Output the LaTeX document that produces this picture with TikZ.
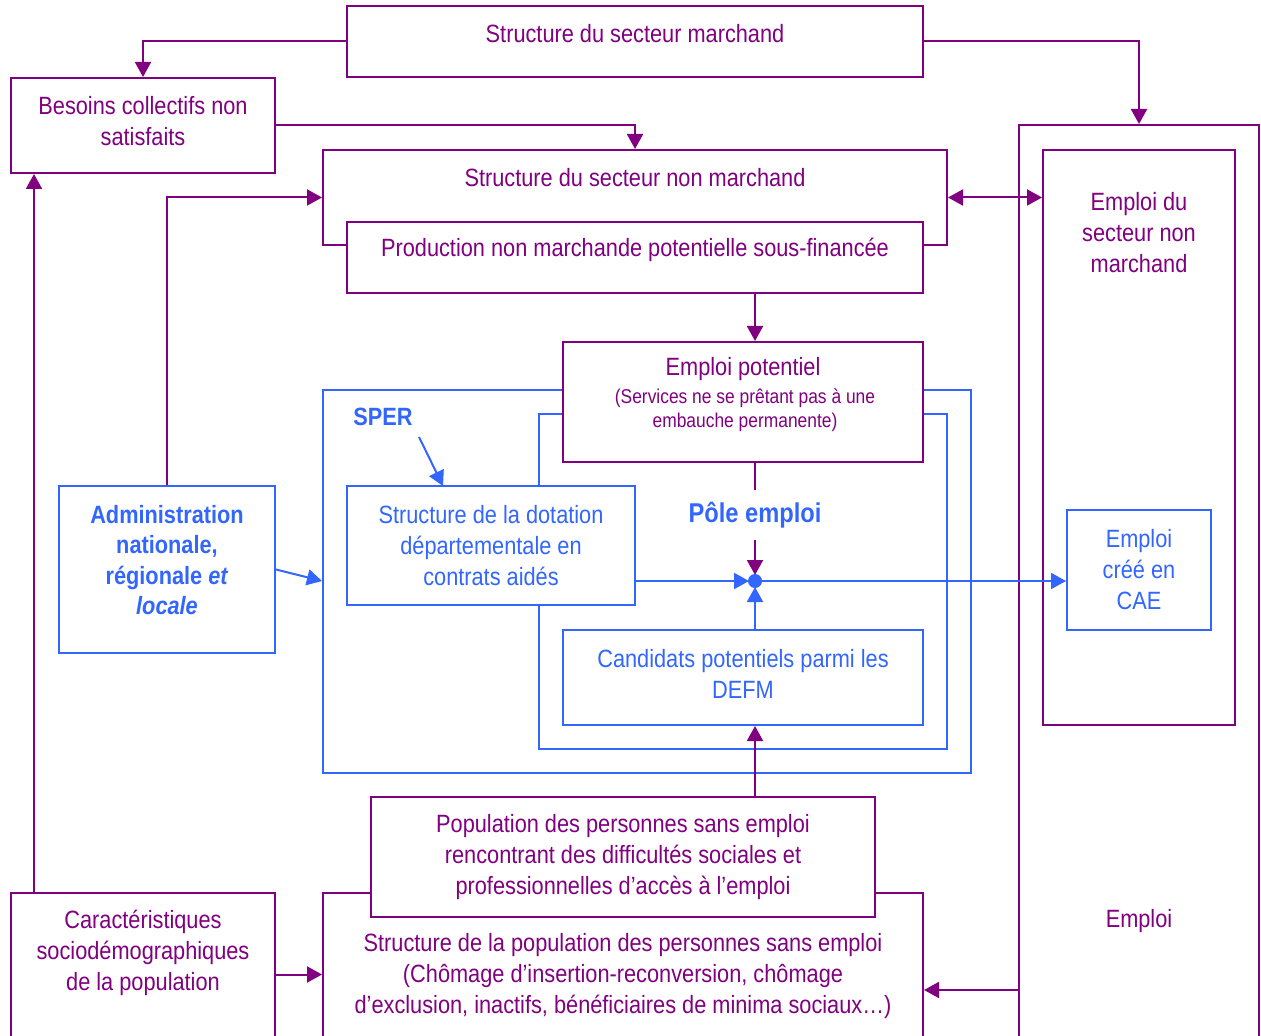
\documentclass[tikz,border=0pt]{standalone}
\usepackage{fontspec}
\setmainfont{Liberation Sans}[FakeStretch=0.87]
\usetikzlibrary{arrows.meta,fit}
\definecolor{pu}{RGB}{128,0,128}
\definecolor{bl}{RGB}{51,102,255}
\tikzset{
  pbox/.style={draw=pu, fill=white, inner sep=0pt, line width=1pt},
  bbox/.style={draw=bl, fill=white, inner sep=0pt, line width=1pt},
  ptxt/.style={text=pu, align=center, inner sep=0pt, font=\fontsize{12.5}{15.5}\selectfont},
  btxt/.style={text=bl, align=center, inner sep=0pt, font=\fontsize{12.5}{15.5}\selectfont},
  bbold/.style={text=bl, align=center, inner sep=0pt, font=\fontsize{12.5}{15.2}\selectfont\bfseries},
  stxt/.style={text=pu, align=center, inner sep=0pt, font=\fontsize{10}{12}\selectfont},
  tipp/.tip={Triangle[length=7.5pt,width=8pt]},
  parr/.style={draw=pu, line width=1pt, -tipp},
  parrb/.style={draw=pu, line width=1pt, tipp-tipp},
  pline/.style={draw=pu, line width=1pt},
  barr/.style={draw=bl, line width=1pt, -tipp},
}
\begin{document}
\begin{tikzpicture}[x=0.5pt,y=-0.5pt]
\useasboundingbox (0,0) rectangle (1261,1036);

% right column
\node[pbox, fit={(1019,125) (1259,1050)}] (emp) {};
\node[pbox, fit={(1043,150) (1235,725)}] (ensm) {};
\node[bbox, fit={(1067,510) (1211,630)}] (cae) {};
\node[ptxt] (tensm) at (1139,233) {Emploi du\\secteur non\\marchand};
\node[ptxt] (temp) at (1139,921) {Emploi};
\node[btxt] (tcae) at (1139,570) {Emploi\\créé en\\CAE};

% SPER / Pole emploi frames
\node[bbox, fit={(323,390) (971,773)}] (sper) {};
\node[bbox, fit={(539,414) (947,749)}] (pole) {};
\node[pbox, fit={(563,342) (923,462)}] (pot) {};
\node[ptxt] (tpot) at (743,369) {Emploi potentiel};
\node[stxt] (tpots) at (745,410) {(Services ne se prêtant pas à une\\embauche permanente)};
\node[bbox, fit={(347,486) (635,605)}] (dota) {};
\node[btxt] (tdota) at (491,546) {Structure de la dotation\\départementale en\\contrats aidés};
\node[bbox, fit={(563,630) (923,725)}] (cand) {};
\node[btxt] (tcand) at (743,674) {Candidats potentiels parmi les\\DEFM};
\node[bbold] (tsper) at (383,417) {SPER};
\node[text=bl, inner ysep=6pt, inner xsep=2pt, font=\fontsize{13.6}{15}\selectfont\bfseries] (tpole) at (755,515) {Pôle emploi};

% top
\node[pbox, fit={(347,6) (923,77)}] (sm) {};
\node[ptxt] (tsm) at (635,34) {Structure du secteur marchand};
\node[pbox, fit={(11,78) (275,173)}] (bes) {};
\node[ptxt] (tbes) at (143,121) {Besoins collectifs non\\satisfaits};
\node[pbox, fit={(323,150) (947,245)}] (snm) {};
\node[ptxt] (tsnm) at (635,178) {Structure du secteur non marchand};
\node[pbox, fit={(347,222) (923,293)}] (prod) {};
\node[ptxt] (tprod) at (635,250) {Production non marchande potentielle sous-financée};

% admin
\node[bbox, fit={(59,486) (275,653)}] (adm) {};
\node[bbold] (tadm) at (167,560) {Administration\\nationale,\\régionale \textit{et}\\\textit{locale}};

% bottom
\node[pbox, fit={(11,893) (275,1050)}] (car) {};
\node[ptxt] (tcar) at (143,953) {Caractéristiques\\sociodémographiques\\de la population};
\node[pbox, fit={(323,893) (923,1050)}] (spop) {};
\node[pbox, fit={(371,797) (875,917)}] (pop) {};
\node[ptxt] (tpop) at (623,857) {Population des personnes sans emploi\\rencontrant des difficultés sociales et\\professionnelles d’accès à l’emploi};
\node[ptxt] (tspop) at (623,976) {Structure de la population des personnes sans emploi\\(Chômage d’insertion-reconversion, chômage\\d’exclusion, inactifs, bénéficiaires de minima sociaux…)};

% connectors
\coordinate (dc) at (755,581);
\draw[parr] (sm.west) -| (bes.north);
\draw[parr] (sm.east) -| (emp.north);
\draw[parr] (bes.east) -| (snm.north);
\draw[parrb] (snm.east) -- (snm.east -| ensm.west);
\draw[parr] (prod.south -| dc) -- (pot.north -| dc);
\draw[pline] (pot.south -| dc) -- (tpole.north);
\draw[barr] (dc) -- (dc -| cae.west);
\draw[parr] (tpole.south) -- ([yshift=3pt]dc);
\draw[barr] (dc -| dota.east) -- ([xshift=-3pt]dc);
\draw[barr] (cand.north -| dc) -- ([yshift=-3pt]dc);
\node[circle, fill=bl, minimum size=7pt, inner sep=0pt] (dot) at (dc) {};
\draw[parr] (pop.north -| dot) -- (cand.south -| dot);
\draw[parr] (adm.north) |- (snm.west);
\draw[barr] (adm.east) -- (sper.west |- dot);
\coordinate (sperA) at (419,437);
\coordinate (sperB) at (443,486);
\draw[barr] (sperA) -- (sperB);
\draw[parr] ([yshift=-1.5pt]car.east) -- ([yshift=-1.5pt]car.east -| spop.west);
\draw[parr] ([xshift=12pt]car.north west) -- ([xshift=12pt]bes.south west);
\coordinate (eout) at (1019,990);
\draw[parr] (eout) -- (eout -| spop.east);
\end{tikzpicture}
\end{document}
